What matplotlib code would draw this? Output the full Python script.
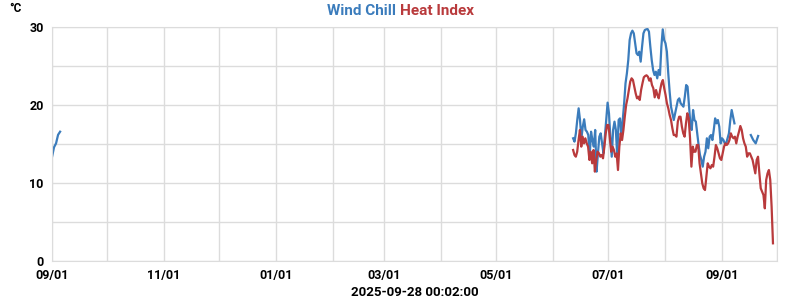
import matplotlib
import matplotlib.pyplot as plt
import matplotlib.dates as mdates
import pandas as pd
from matplotlib import ticker

matplotlib.use("Agg")

# Wind chill, early segment (Sep 2024)
wc_early_start, wc_early_end = "2024-09-01", "2024-09-05 10:00"
wc_early = [13.35, 14.6, 15.1, 16.2, 16.6]

# Wind chill, summer 2025 segment
wc_summer_start, wc_summer_end = "2025-06-12", "2025-09-07 22:00"
wc_summer = [
    15.75, 15.32, 16.39, 18.10, 19.6, 18.10, 15.75, 17.24, 18.19, 16.82,
    16.6, 16.17, 13.39, 16.6, 15.53, 14.68, 16.82, 11.47, 13.82, 15.96,
    16.39, 15.1, 13.82, 15.96, 18.10, 20.33, 18.96, 15.96, 13.39, 16.82,
    17.89, 16.82, 13.39, 18.10, 18.31, 16.17, 18.10, 20.24, 22.81, 24.09,
    25.8, 28.37, 29.22, 29.57, 29.22, 27.94, 26.66, 26.44, 26.87, 25.59,
    27.51, 29.22, 29.65, 29.74, 29.78, 29.44, 27.51, 25.8, 24.52, 23.88,
    24.3, 23.45, 24.52, 23.88, 27.51, 29.74, 28.37, 27.94, 26.87, 24.09,
    21.73, 19.81, 18.96, 18.10, 18.96, 19.81, 20.67, 20.88, 20.24, 20.03,
    19.81, 21.09, 22.59, 22.38, 20.03, 17.67, 16.82, 19.38, 18.10, 17.89,
    16.39, 14.89, 13.61, 12.97, 12.11, 13.39, 14.03, 15.75, 14.47, 15.96,
    16.17, 15.53, 16.82, 18.31, 17.67, 18.10, 17.24, 15.1, 15.75, 15.53,
    15.1, 15.1, 15.75, 16.39, 18.10, 19.38, 18.52, 17.67,
]

# Wind chill, late segment (Sep 2025)
wc_late_start, wc_late_end = "2025-09-16 20:00", "2025-09-20 20:00"
wc_late = [16.17, 15.53, 15.1, 16.05]

# Heat index, summer 2025
hi_start, hi_end = "2025-06-12", "2025-09-28 22:00"
hi_summer = [
    14.25, 13.61, 13.39, 14.03, 15.53, 16.82, 14.68, 15.96, 15.1, 15.75,
    15.1, 14.68, 12.97, 14.03, 12.54, 14.25, 11.47, 12.97, 14.03, 13.82,
    13.39, 13.61, 13.18, 14.68, 16.39, 17.46, 17.46, 15.75, 14.03, 14.68,
    14.25, 13.39, 13.82, 11.68, 14.68, 16.39, 15.53, 16.82, 18.52, 20.03,
    20.88, 21.95, 23.02, 23.45, 23.23, 22.38, 21.53, 20.88, 21.09, 20.67,
    21.95, 22.81, 23.58, 23.75, 23.84, 23.66, 23.15, 23.45, 22.59, 22.17,
    21.01, 21.95, 21.31, 20.88, 21.95, 22.81, 23.23, 22.17, 21.31, 20.24,
    19.6, 18.74, 18.10, 17.03, 16.17, 16.17, 15.96, 17.89, 18.52, 18.52,
    17.24, 16.39, 15.96, 17.67, 18.96, 18.31, 15.75, 12.11, 14.68, 14.03,
    14.03, 14.89, 14.89, 12.54, 11.25, 9.97, 9.33, 9.11, 10.83, 12.54,
    12.11, 11.9, 12.32, 12.11, 13.39, 14.89, 14.47, 13.82, 13.18, 12.97,
    13.82, 14.68, 15.1, 14.89, 15.1, 15.53, 16.39, 15.96, 15.75, 15.96,
    15.1, 15.96, 16.6, 17.33, 16.82, 15.75, 15.1, 14.68, 13.39, 13.82,
    13.82, 13.39, 12.97, 12.11, 11.25, 12.97, 13.39, 11.25, 9.33, 8.9,
    8.47, 6.76, 10.4, 11.25, 11.68, 10.4, 6.97, 2.27,
]

x_start, x_end = "2024-09-01", "2025-10-01"
timestamp = "2025-09-28 00:02:00"

BLUE = "#3b7cbc"
RED = "#b93a3c"
GRID = "#dcdcdc"

plt.rcParams["font.family"] = ["Roboto", "DejaVu Sans"]

fig = plt.figure(figsize=(8, 3), dpi=100)
ax = fig.add_axes([0.065, 0.13, 0.906, 0.779])


def seg(start, end, values):
    return pd.date_range(start, end, periods=len(values))


ax.plot(seg(wc_early_start, wc_early_end, wc_early), wc_early, color=BLUE, lw=1.6)
ax.plot(seg(wc_summer_start, wc_summer_end, wc_summer), wc_summer, color=BLUE, lw=1.6)
ax.plot(seg(wc_late_start, wc_late_end, wc_late), wc_late, color=BLUE, lw=1.6)
ax.plot(seg(hi_start, hi_end, hi_summer), hi_summer, color=RED, lw=1.6)

ax.set_xlim(pd.Timestamp(x_start), pd.Timestamp(x_end))
ax.set_ylim(0, 30)

ax.xaxis.set_major_locator(mdates.MonthLocator(bymonth=[1, 3, 5, 7, 9, 11]))
ax.xaxis.set_major_formatter(mdates.DateFormatter("%m/%d"))
ax.xaxis.set_minor_locator(mdates.MonthLocator())
ax.yaxis.set_major_locator(ticker.MultipleLocator(10))
ax.yaxis.set_minor_locator(ticker.MultipleLocator(5))

ax.grid(True, which="both", color=GRID, lw=1)
ax.set_axisbelow(True)
ax.tick_params(which="both", length=0)
ax.tick_params(axis="x", pad=5.5)
ax.tick_params(axis="y", pad=6)
for lab in ax.get_xticklabels() + ax.get_yticklabels():
    lab.set_fontweight("bold")
    lab.set_fontsize(9)
for sp in ax.spines.values():
    sp.set_color(GRID)

ax.set_xlabel(timestamp, fontsize=9.5, fontweight="bold", labelpad=3.5)

fig.text(0.495, 0.962, "Wind Chill", color=BLUE, ha="right", va="center",
         fontsize=11, fontweight="bold")
fig.text(0.5, 0.962, "Heat Index", color=RED, ha="left", va="center",
         fontsize=11, fontweight="bold")
fig.text(0.012, 0.972, "°C", ha="left", va="center", fontsize=8.5, fontweight="bold")

fig.savefig("out.png", dpi=100)
